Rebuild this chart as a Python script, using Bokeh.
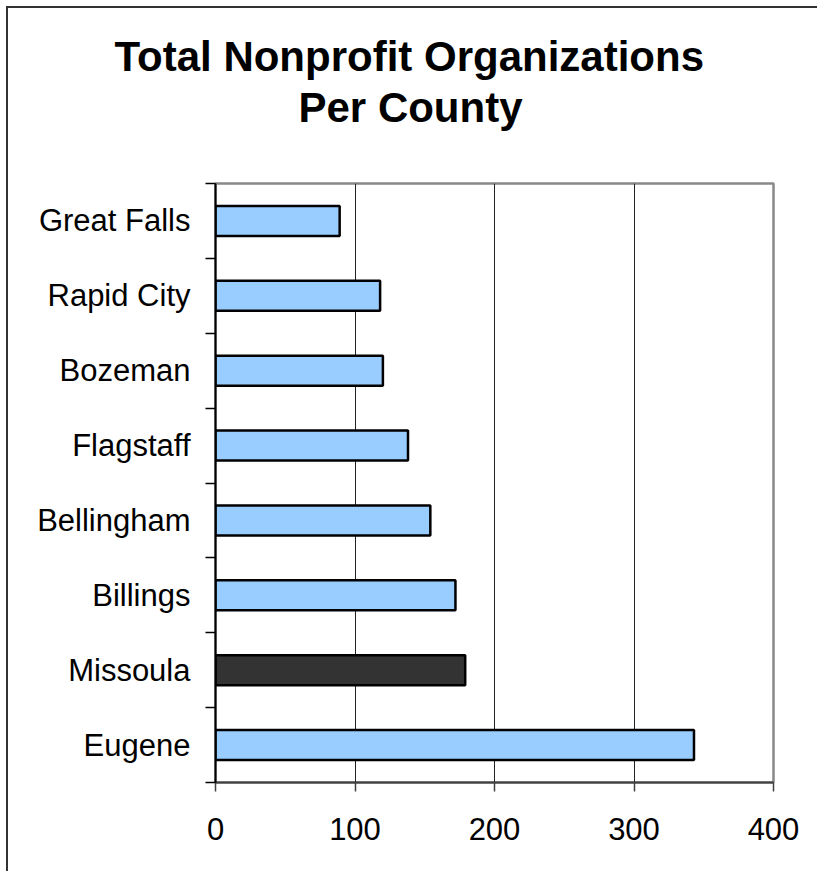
from bokeh.plotting import figure
from bokeh.models import FixedTicker, Range1d, Title, ColumnDataSource, LinearAxis
from bokeh.embed import file_html
from bokeh.resources import INLINE

# Data (bottom to top)
categories = ["Eugene", "Missoula", "Billings", "Bellingham", "Flagstaff", "Bozeman", "Rapid City", "Great Falls"]
values = [343, 179, 172, 154, 138, 120, 118, 89]
colors = ["#99CCFF", "#333333", "#99CCFF", "#99CCFF", "#99CCFF", "#99CCFF", "#99CCFF", "#99CCFF"]
x_ticks = [0, 100, 200, 300, 400]
title_lines = ["Total Nonprofit Organizations", "Per County"]

positions = [i + 0.5 for i in range(len(categories))]
src = ColumnDataSource(dict(y=positions, right=values, color=colors, name=categories))

W, H = 811, 865
p = figure(width=W, height=H, output_backend="svg", toolbar_location=None,
           x_range=Range1d(0, 400), y_range=Range1d(0, len(categories)),
           min_border_left=207, min_border_right=46, min_border_top=175, min_border_bottom=91,
           x_axis_location=None, y_axis_location=None, title_location=None)
p.styles = {"border-top": "2px solid #333333", "border-left": "2px solid #333333",
            "margin-top": "6px", "margin-left": "6px"}

p.hbar(y="y", left=0, right="right", height=0.4, fill_color="color",
       line_color="black", line_width=2.5, source=src)

# x axis
xa = LinearAxis(ticker=FixedTicker(ticks=x_ticks))
xa.axis_line_color = "#404040"
xa.axis_line_width = 2
xa.major_tick_line_color = "#404040"
xa.major_tick_line_width = 1.5
xa.major_tick_out = 9
xa.major_tick_in = 0
xa.minor_tick_line_color = None
xa.major_label_text_font = "Liberation Sans"
xa.major_label_text_font_size = "31px"
xa.major_label_text_color = "black"
xa.major_label_standoff = 26
p.add_layout(xa, "below")

# y axis: labels at centres, ticks at boundaries
ya = LinearAxis(ticker=FixedTicker(ticks=positions, minor_ticks=list(range(len(categories) + 1))))
ya.major_label_overrides = {pos: name for pos, name in zip(positions, categories)}
ya.axis_line_color = "black"
ya.axis_line_width = 2
ya.major_tick_line_color = None
ya.minor_tick_line_color = "black"
ya.minor_tick_line_width = 1.5
ya.minor_tick_out = 10
ya.minor_tick_in = 0
ya.major_label_text_font = "Liberation Sans"
ya.major_label_text_font_size = "31px"
ya.major_label_text_color = "black"
ya.major_label_standoff = 15
p.add_layout(ya, "left")

p.xgrid.ticker = FixedTicker(ticks=[100, 200, 300])
p.xgrid.grid_line_color = "#222222"
p.xgrid.grid_line_width = 1
p.ygrid.grid_line_color = None

p.outline_line_color = "#888888"
p.outline_line_width = 2.5

# spacer panel between frame and title lines
p.add_layout(Title(text=" ", text_font_size="1px", standoff=50), "above")
# titles: first added is nearest the frame; left-aligned with offsets to centre on the canvas
for txt, so, off in [(title_lines[1], 0, 83), (title_lines[0], 4, -101)]:
    t = Title(text=txt, align="left", offset=off,
              text_font="Liberation Sans", text_font_size="42px", text_font_style="bold",
              text_color="black", standoff=so)
    p.add_layout(t, "above")
p.background_fill_color = "white"
p.border_fill_color = "white"

open("out.html", "w").write(file_html(p, INLINE))
